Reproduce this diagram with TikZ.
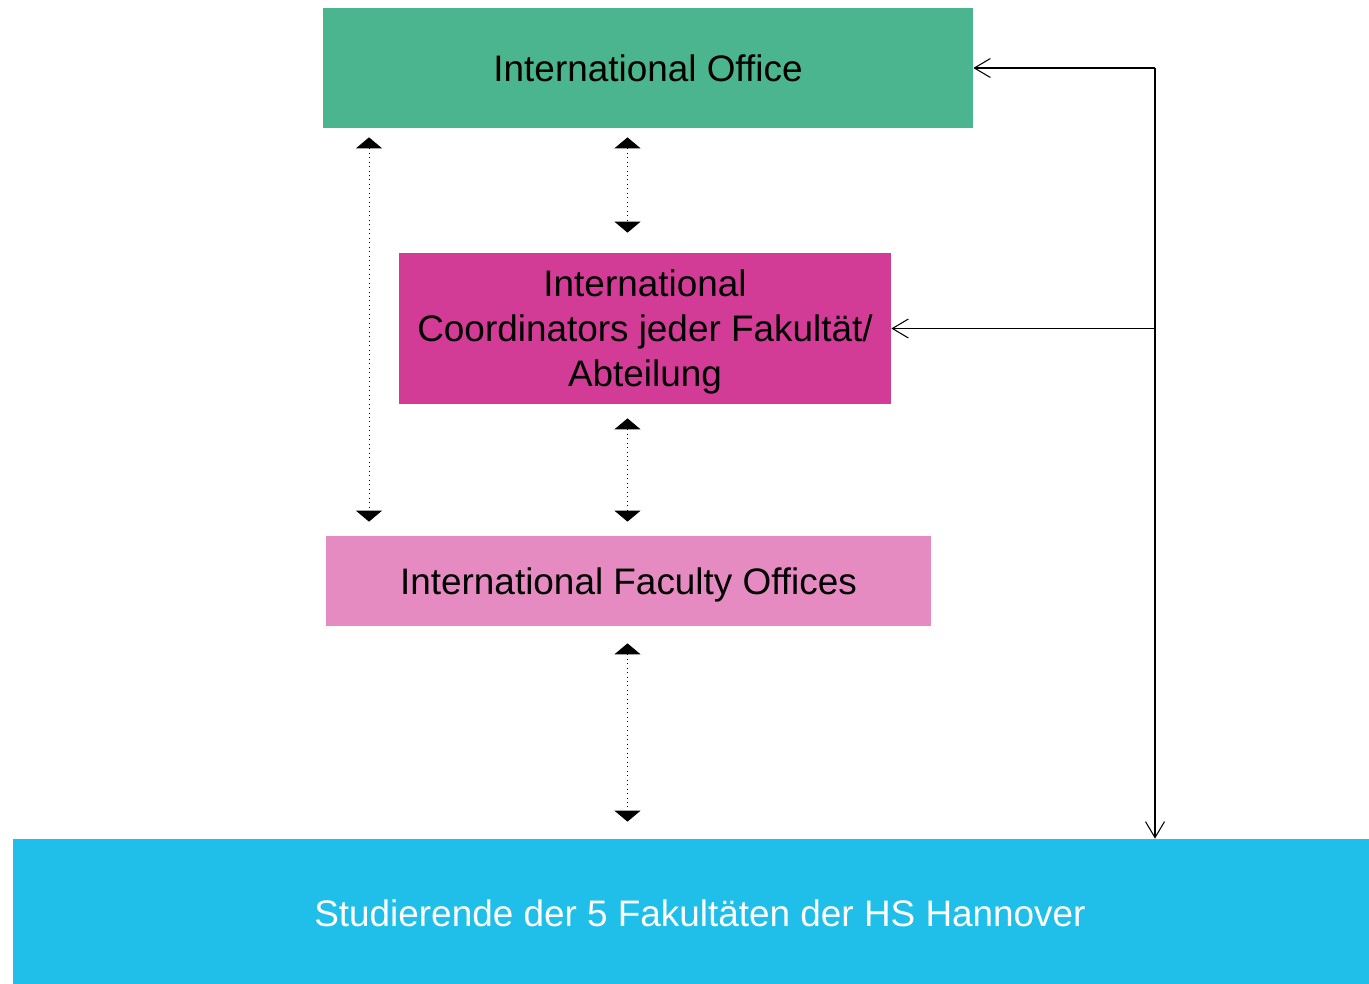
\documentclass[tikz,border=0pt]{standalone}
\usepackage{fontspec}
\setmainfont{Liberation Sans}
\usetikzlibrary{arrows.meta}

\definecolor{ioGreen}{HTML}{4AB58E}
\definecolor{coordMagenta}{HTML}{D33C96}
\definecolor{facPink}{HTML}{E58BC1}
\definecolor{studBlue}{HTML}{1FBFEA}

\tikzset{
	box/.style={inner sep=0pt, align=center, text depth=0pt, font=\fontsize{21}{25.6}\selectfont},
	dotarrow/.style={line width=0.55pt, dotted, {Triangle[width=0.52cm,length=0.22cm]}-{Triangle[width=0.52cm,length=0.22cm]}},
	barbarrow/.style={semithick, -{Straight Barb[length=0.32cm,width=0.38cm]}}
}

\begin{document}
\begin{tikzpicture}
	\useasboundingbox (0,0) rectangle (27.38,-19.68);
	
	\node[box, fill=ioGreen, minimum width=13cm, minimum height=2.4cm] (io) at (12.96,-1.36) {International Office};
	\node[box, fill=coordMagenta, minimum width=9.84cm, minimum height=3.02cm] (coord) at (12.9,-6.57) {International\\Coordinators jeder Fakultät/\\Abteilung};
	\node[box, fill=facPink, minimum width=12.1cm, minimum height=1.8cm] (fac) at (12.57,-11.62) {International Faculty Offices};
	\node[box, fill=studBlue, minimum width=27.12cm, minimum height=2.9cm] (stud) at (13.82,-18.23) {};
	\node[box, text=white] (studtext) at (14.0,-18.27) {Studierende der 5 Fakultäten der HS Hannover};
	
	\coordinate (L) at (7.38,0);
	\coordinate (M) at (12.55,0);
	\coordinate (R) at (23.1,0);
	
	% dotted double arrows
	\draw[dotarrow, shorten <=0.18cm, shorten >=0.28cm] (io.south -| L) -- (fac.north -| L);
	\draw[dotarrow, shorten <=0.18cm, shorten >=0.4cm] (io.south -| M) -- (coord.north -| M);
	\draw[dotarrow, shorten <=0.28cm, shorten >=0.28cm] (coord.south -| M) -- (fac.north -| M);
	\draw[dotarrow, shorten <=0.34cm, shorten >=0.34cm] (fac.south -| M) -- (stud.north -| M);
	
	% feedback lines on the right
	\draw[barbarrow] (io.east -| R) -- (io.east);
	\draw[barbarrow] (coord.east -| R) -- (coord.east);
	\draw[barbarrow] (io.east -| R) -- (stud.north -| R);
\end{tikzpicture}
\end{document}
